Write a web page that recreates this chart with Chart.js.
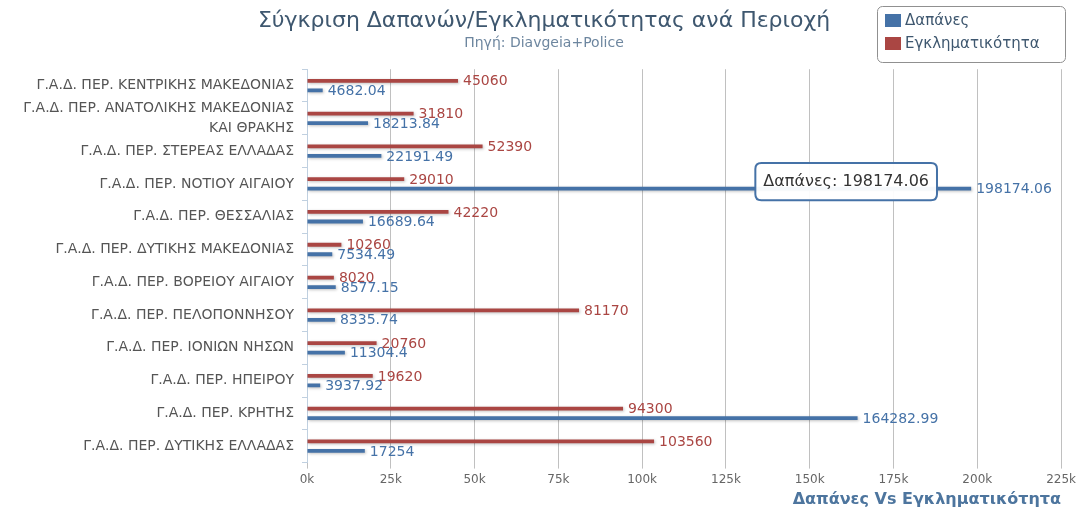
<!DOCTYPE html>
<html>
<head>
<meta charset="utf-8">
<script src="https://cdn.jsdelivr.net/npm/chart.js@4.4.0/dist/chart.umd.min.js"></script>
<style>
  html, body { margin: 0; padding: 0; background: #fff; }
  #wrap { width: 1080px; height: 510px; position: relative; }
</style>
</head>
<body>
<div id="wrap"><canvas id="chart"></canvas></div>
<script>
// --- Data ---
const regions = [
    'Γ.Α.Δ. ΠΕΡ. ΚΕΝΤΡΙΚΗΣ ΜΑΚΕΔΟΝΙΑΣ',
    ['Γ.Α.Δ. ΠΕΡ. ΑΝΑΤΟΛΙΚΗΣ ΜΑΚΕΔΟΝΙΑΣ', 'ΚΑΙ ΘΡΑΚΗΣ'],
    'Γ.Α.Δ. ΠΕΡ. ΣΤΕΡΕΑΣ ΕΛΛΑΔΑΣ',
    'Γ.Α.Δ. ΠΕΡ. ΝΟΤΙΟΥ ΑΙΓΑΙΟΥ',
    'Γ.Α.Δ. ΠΕΡ. ΘΕΣΣΑΛΙΑΣ',
    'Γ.Α.Δ. ΠΕΡ. ΔΥΤΙΚΗΣ ΜΑΚΕΔΟΝΙΑΣ',
    'Γ.Α.Δ. ΠΕΡ. ΒΟΡΕΙΟΥ ΑΙΓΑΙΟΥ',
    'Γ.Α.Δ. ΠΕΡ. ΠΕΛΟΠΟΝΝΗΣΟΥ',
    'Γ.Α.Δ. ΠΕΡ. ΙΟΝΙΩΝ ΝΗΣΩΝ',
    'Γ.Α.Δ. ΠΕΡ. ΗΠΕΙΡΟΥ',
    'Γ.Α.Δ. ΠΕΡ. ΚΡΗΤΗΣ',
    'Γ.Α.Δ. ΠΕΡ. ΔΥΤΙΚΗΣ ΕΛΛΑΔΑΣ'
];
const expenses = [4682.04, 18213.84, 22191.49, 198174.06, 16689.64, 7534.49, 8577.15, 8335.74, 11304.4, 3937.92, 164282.99, 17254];
const crime = [45060, 31810, 52390, 29010, 42220, 10260, 8020, 81170, 20760, 19620, 94300, 103560];
const xTicks = [0, 25000, 50000, 75000, 100000, 125000, 150000, 175000, 200000, 225000];

const BLUE = '#4572A7';
const RED = '#AA4643';
const FONT = "'DejaVu Sans', sans-serif";

// bars get a soft grey drop shadow
const barShadow = {
    id: 'barShadow',
    beforeDatasetDraw(chart) {
        const ctx = chart.ctx;
        ctx.save();
        ctx.shadowColor = 'rgba(0,0,0,0.25)';
        ctx.shadowOffsetX = 1;
        ctx.shadowOffsetY = 1;
        ctx.shadowBlur = 3;
    },
    afterDatasetDraw(chart) {
        chart.ctx.restore();
    }
};

// value labels at the end of each bar
const valueLabels = {
    id: 'valueLabels',
    afterDatasetsDraw(chart) {
        const ctx = chart.ctx;
        ctx.save();
        ctx.font = `14px ${FONT}`;
        ctx.textAlign = 'left';
        ctx.textBaseline = 'middle';
        chart.data.datasets.forEach((ds, i) => {
            const meta = chart.getDatasetMeta(i);
            ctx.fillStyle = ds.borderColor;
            meta.data.forEach((bar, j) => {
                ctx.fillText(String(ds.data[j]), bar.x + 5, bar.y + 1);
            });
        });
        ctx.restore();
    }
};

// boxed legend in the top right corner
const boxLegend = {
    id: 'boxLegend',
    afterDraw(chart) {
        const ctx = chart.ctx;
        const items = chart.data.datasets.slice().reverse();
        const w = 188, h = 56;
        const x = chart.width - w - 15, y = 6;
        ctx.save();
        ctx.fillStyle = '#fff';
        ctx.strokeStyle = '#909090';
        ctx.lineWidth = 1;
        ctx.beginPath();
        ctx.roundRect(x + 0.5, y + 0.5, w, h, 5);
        ctx.fill();
        ctx.stroke();
        ctx.font = `15px ${FONT}`;
        ctx.textBaseline = 'middle';
        items.forEach((ds, i) => {
            const cy = y + 15 + i * 23;
            ctx.fillStyle = ds.backgroundColor;
            ctx.fillRect(x + 8, cy - 7, 16, 13);
            ctx.fillStyle = '#3E576F';
            ctx.fillText(ds.label, x + 28, cy);
        });
        ctx.restore();
    }
};

Chart.Tooltip.positioners.leftAbove = function (elements) {
    if (!elements.length) return false;
    const el = elements[0].element;
    return { x: el.x - 125, y: el.y - 7 };
};

const chart = new Chart(document.getElementById('chart'), {
    type: 'bar',
    data: {
        labels: regions,
        datasets: [
            { label: 'Εγκληματικότητα', data: crime, backgroundColor: RED, borderColor: RED },
            { label: 'Δαπάνες', data: expenses, backgroundColor: BLUE, borderColor: BLUE }
        ]
    },
    options: {
        indexAxis: 'y',
        responsive: true,
        maintainAspectRatio: false,
        animation: false,
        events: [],
        categoryPercentage: 0.58,
        barPercentage: 0.4,
        layout: { padding: { left: 10, right: 2, top: 0, bottom: 2 } },
        plugins: {
            legend: { display: false },
            title: {
                display: true,
                text: 'Σύγκριση Δαπανών/Εγκληματικότητας ανά Περιοχή',
                color: '#3E576F',
                font: { family: FONT, size: 22, weight: 'normal' },
                padding: { top: 8, bottom: 1 }
            },
            subtitle: {
                display: true,
                text: 'Πηγή: Diavgeia+Police',
                color: '#6D869F',
                font: { family: FONT, size: 14 },
                padding: { bottom: 17 }
            },
            tooltip: {
                position: 'leftAbove',
                xAlign: 'center',
                yAlign: 'center',
                caretSize: 0,
                backgroundColor: 'rgba(255,255,255,0.95)',
                borderColor: BLUE,
                borderWidth: 2,
                cornerRadius: 6,
                displayColors: false,
                bodyColor: '#333',
                bodyFont: { family: FONT, size: 16 },
                padding: { x: 8, y: 9 },
                callbacks: {
                    title: () => [],
                    label: (c) => `${c.dataset.label}: ${c.raw}`
                }
            }
        },
        scales: {
            x: {
                type: 'linear',
                min: 0,
                max: 225000,
                afterBuildTicks: (scale) => { scale.ticks = xTicks.map(v => ({ value: v })); },
                grid: { color: '#C0C0C0', tickLength: 6 },
                border: { display: false },
                ticks: {
                    color: '#666',
                    font: { family: FONT, size: 12 },
                    padding: 4,
                    callback: (v) => (v / 1000) + 'k'
                },
                title: {
                    display: true,
                    text: 'Δαπάνες Vs Εγκληματικότητα',
                    align: 'end',
                    color: '#4d759e',
                    font: { family: FONT, size: 16, weight: 'bold', lineHeight: 1.0 },
                    padding: { top: 1, bottom: 0 }
                }
            },
            y: {
                grid: { offset: true, drawOnChartArea: false, tickLength: 5, color: '#C0D0E0' },
                border: { display: true, color: '#C0D0E0' },
                ticks: {
                    autoSkip: false,
                    color: '#555',
                    font: { family: FONT, size: 14, lineHeight: 1.4 },
                    padding: 8
                },
                afterFit: (scale) => { scale.width = 297; }
            }
        }
    },
    plugins: [barShadow, valueLabels, boxLegend]
});

chart.tooltip.setActiveElements([{ datasetIndex: 1, index: 3 }], { x: 0, y: 0 });
chart.update();
</script>
</body>
</html>
